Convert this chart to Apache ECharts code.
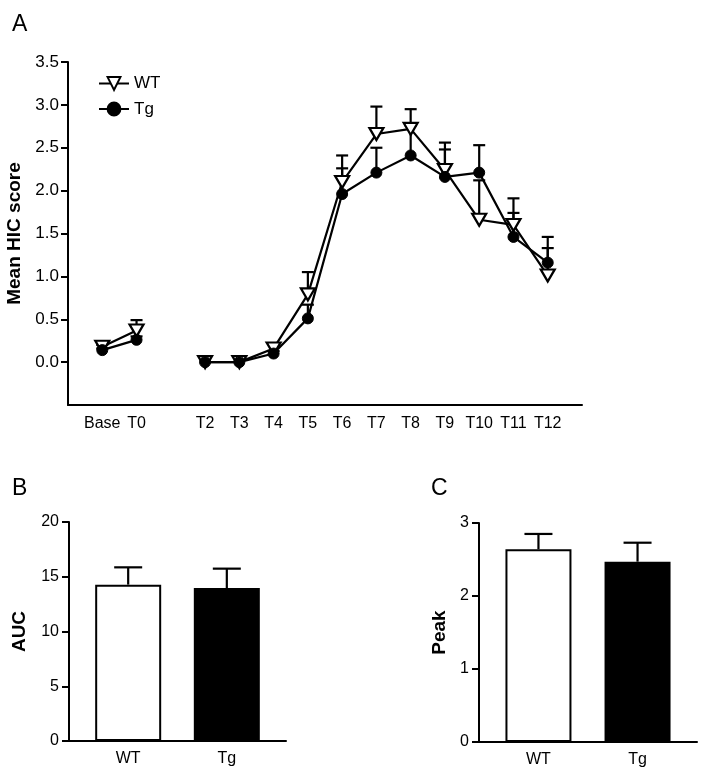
<!DOCTYPE html>
<html>
<head>
<meta charset="utf-8">
<script src="https://cdn.jsdelivr.net/npm/echarts@6/dist/echarts.min.js"></script>
<style>
html,body{margin:0;padding:0;background:#fff;}
#chart{width:704px;height:775px;}
</style>
</head>
<body>
<div id="chart"></div>
<script>
// ---- Panel A data ----
var timepoints = ['Base','T0','','T2','T3','T4','T5','T6','T7','T8','T9','T10','T11','T12'];
var wtMean = [0.18, 0.37, null, 0, 0, 0.16, 0.79, 2.10, 2.66, 2.72, 2.24, 1.66, 1.60, 1.01];
var wtUpper = [0.20, 0.49, null, null, null, 0.21, 1.05, 2.41, 2.98, 2.95, 2.56, 2.12, 1.91, 1.33];
var tgMean = [0.14, 0.26, null, 0, 0, 0.10, 0.51, 1.96, 2.21, 2.41, 2.16, 2.21, 1.46, 1.16];
var tgUpper = [0.16, 0.30, null, null, null, 0.13, 0.67, 2.26, 2.50, 2.76, 2.48, 2.53, 1.74, 1.46];
var yTicksA = [0, 0.5, 1.0, 1.5, 2.0, 2.5, 3.0, 3.5];

// ---- Panel B / C data ----
var groups = ['WT', 'Tg'];
var aucMean = [14.28, 13.97];
var aucUpper = [15.86, 15.74];
var peakMean = [2.64, 2.47];
var peakUpper = [2.85, 2.73];

var FONT = 'Liberation Sans, Arial, Helvetica, sans-serif';
var BLACK = '#000';

// Build padded category axis for panel A
var axisCats = [''].concat(timepoints).concat(['']);
function padSeries(arr){
  var out = ['-'];
  arr.forEach(function(v){ out.push(v === null ? '-' : v); });
  out.push('-');
  return out;
}
function errData(mean, upper){
  var out = [];
  mean.forEach(function(m, i){
    if (m !== null && upper[i] !== null) out.push([i + 1, m, upper[i]]);
  });
  return out;
}
function errRender(capW){
  return function(params, api){
    var x = api.value(0), m = api.value(1), t = api.value(2);
    var p0 = api.coord([x, m]);
    var p1 = api.coord([x, t]);
    var w = capW / 2;
    return {
      type: 'group',
      children: [
        {type:'line', shape:{x1:p0[0], y1:p0[1], x2:p1[0], y2:p1[1]}, style:{stroke:BLACK, lineWidth:2.2}},
        {type:'line', shape:{x1:p1[0]-w, y1:p1[1], x2:p1[0]+w, y2:p1[1]}, style:{stroke:BLACK, lineWidth:2.2}}
      ]
    };
  };
}
function barErrData(mean, upper){
  return mean.map(function(m, i){ return [i + 1, m, upper[i]]; });
}

var axisLineStyle = {show:true, onZero:false, lineStyle:{color:BLACK, width:2}};
var tickStyle = {show:true, length:7, lineStyle:{color:BLACK, width:2}};
var labelStyle = {color:BLACK, fontSize:16, fontFamily:FONT, margin:10};
var nameStyle = {color:BLACK, fontSize:19, fontWeight:'bold', fontFamily:FONT};

var option = {
  animation: false,
  backgroundColor: '#fff',
  textStyle: {fontFamily: FONT},
  title: [
    {text:'A', left:7, top:8, textStyle:{fontSize:23, fontWeight:'normal', color:BLACK, fontFamily:FONT}},
    {text:'B', left:7, top:472, textStyle:{fontSize:23, fontWeight:'normal', color:BLACK, fontFamily:FONT}},
    {text:'C', left:426, top:472, textStyle:{fontSize:23, fontWeight:'normal', color:BLACK, fontFamily:FONT}}
  ],
  legend: {
    data: ['WT', 'Tg'],
    orient: 'vertical',
    left: 93,
    top: 70,
    itemWidth: 30,
    itemHeight: 16,
    itemGap: 8.5,
    textStyle: {color:BLACK, fontSize:17, fontFamily:FONT},
    inactiveColor: '#000'
  },
  grid: [
    {left:68, top:62, width:514, height:343, containLabel:false, outerBoundsMode:'none'},
    {left:69, top:522, width:217, height:219, containLabel:false, outerBoundsMode:'none'},
    {left:479, top:523, width:218, height:219, containLabel:false, outerBoundsMode:'none'}
  ],
  xAxis: [
    {
      gridIndex:0, type:'category', data:axisCats, boundaryGap:false,
      axisLine: axisLineStyle, axisTick:{show:false},
      axisLabel: {color:BLACK, fontSize:16, fontFamily:FONT, interval:0, margin:11},
      splitLine:{show:false}
    },
    {
      gridIndex:1, type:'value', min:0.4, max:2.6,
      axisLine: axisLineStyle, axisTick:{show:false},
      axisLabel: {color:BLACK, fontSize:16, fontFamily:FONT, margin:10, customValues:[1,2],
        formatter:function(v){ return groups[Math.round(v) - 1] || ''; }},
      splitLine:{show:false}
    },
    {
      gridIndex:2, type:'value', min:0.4, max:2.6,
      axisLine: axisLineStyle, axisTick:{show:false},
      axisLabel: {color:BLACK, fontSize:16, fontFamily:FONT, margin:10, customValues:[1,2],
        formatter:function(v){ return groups[Math.round(v) - 1] || ''; }},
      splitLine:{show:false}
    }
  ],
  yAxis: [
    {
      gridIndex:0, type:'value', min:-0.5, max:3.5, interval:0.5,
      name:'Mean HIC score', nameLocation:'middle', nameGap:37, nameRotate:90, nameTextStyle:nameStyle,
      axisLine: axisLineStyle,
      axisTick: {show:true, length:7, lineStyle:{color:BLACK, width:2}, customValues:yTicksA},
      axisLabel: {color:BLACK, fontSize:17, fontFamily:FONT, margin:9, customValues:yTicksA,
        formatter:function(v){ return v.toFixed(1); }},
      splitLine:{show:false}
    },
    {
      gridIndex:1, type:'value', min:0, max:20, interval:5,
      name:'AUC', nameLocation:'middle', nameGap:40, nameRotate:90, nameTextStyle:nameStyle,
      axisLine: axisLineStyle, axisTick: tickStyle, axisLabel: labelStyle,
      splitLine:{show:false}
    },
    {
      gridIndex:2, type:'value', min:0, max:3, interval:1,
      name:'Peak', nameLocation:'middle', nameGap:30, nameRotate:90, nameTextStyle:nameStyle,
      axisLine: axisLineStyle, axisTick: tickStyle, axisLabel: labelStyle,
      splitLine:{show:false}
    }
  ],
  series: [
    {
      type:'custom', name:'errWT', xAxisIndex:0, yAxisIndex:0,
      renderItem: errRender(12), data: errData(wtMean, wtUpper), z:1, silent:true
    },
    {
      type:'custom', name:'errTg', xAxisIndex:0, yAxisIndex:0,
      renderItem: errRender(12), data: errData(tgMean, tgUpper), z:1, silent:true
    },
    {
      type:'line', name:'WT', xAxisIndex:0, yAxisIndex:0,
      data: padSeries(wtMean),
      symbol:'triangle', symbolSize:[14, 12], symbolRotate:180,
      showAllSymbol:true,
      lineStyle:{color:BLACK, width:2.2},
      itemStyle:{color:'#fff', borderColor:BLACK, borderWidth:2.2},
      z:2
    },
    {
      type:'line', name:'Tg', xAxisIndex:0, yAxisIndex:0,
      data: padSeries(tgMean),
      symbol:'circle', symbolSize:11,
      showAllSymbol:true,
      lineStyle:{color:BLACK, width:2.2},
      itemStyle:{color:BLACK, borderColor:BLACK, borderWidth:1},
      z:3
    },
    {
      type:'bar', name:'AUC', xAxisIndex:1, yAxisIndex:1, barWidth:66,
      data: aucMean.map(function(v, i){
        return {value:[i + 1, v], itemStyle:{color: i === 0 ? '#fff' : BLACK, borderColor:BLACK, borderWidth:2}};
      }),
      z:2
    },
    {
      type:'custom', name:'errAUC', xAxisIndex:1, yAxisIndex:1,
      renderItem: errRender(28), data: barErrData(aucMean, aucUpper), z:1, silent:true
    },
    {
      type:'bar', name:'Peak', xAxisIndex:2, yAxisIndex:2, barWidth:66,
      data: peakMean.map(function(v, i){
        return {value:[i + 1, v], itemStyle:{color: i === 0 ? '#fff' : BLACK, borderColor:BLACK, borderWidth:2}};
      }),
      z:2
    },
    {
      type:'custom', name:'errPeak', xAxisIndex:2, yAxisIndex:2,
      renderItem: errRender(28), data: barErrData(peakMean, peakUpper), z:1, silent:true
    }
  ]
};

var chart = echarts.init(document.getElementById('chart'), null, {renderer:'canvas'});
chart.setOption(option);
</script>
</body>
</html>
